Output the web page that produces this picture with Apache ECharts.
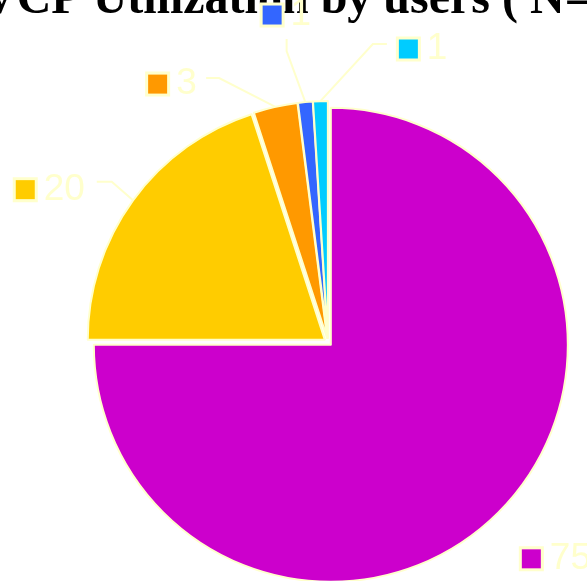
<!DOCTYPE html>
<html>
<head>
<meta charset="utf-8">
<script src="https://cdn.jsdelivr.net/npm/echarts@6/dist/echarts.min.js"></script>
<style>html,body{margin:0;padding:0;background:#fff;}#c{width:587px;height:581px;}</style>
</head>
<body>
<div id="c"></div>
<script>
const titleText = 'VCP Utilization by users ( N=100 )';
const categories = ['A', 'B', 'C', 'D', 'E'];
const values = [75, 20, 3, 1, 1];
const colors = ['#CC00CC', '#FFCC00', '#FF9900', '#3366FF', '#00CCFF'];

// label placement (layout only): marker left x, label middle y, leader-line bend and end points
const labelPlace = [
  { x: 516, y: 551, line: null },
  { x: 16,  y: 187, line: [[115, 184], [100, 184]] },
  { x: 146, y: 83,  line: [[220, 82], [207, 82]] },
  { x: 260, y: 14,  line: [[287, 55], [287, 43]] },
  { x: 396, y: 48,  line: [[373, 48], [387, 48]] }
];

const rich = {
  v: { fontSize: 37, color: '#FFFFCC', fontFamily: 'Liberation Sans', padding: [0, 0, 0, 9] }
};
colors.forEach((c, i) => {
  rich['m' + i] = { width: 19, height: 19, backgroundColor: c, borderColor: '#FFFFCC', borderWidth: 3 };
});

const chart = echarts.init(document.getElementById('c'), null, { renderer: 'canvas' });
chart.setOption({
  animation: false,
  backgroundColor: '#ffffff',
  title: {
    text: titleText,
    left: -23,
    top: -28,
    z: 0,
    textStyle: { fontFamily: 'Liberation Serif', fontWeight: 'bold', fontSize: 48, color: '#000' }
  },
  series: [{
    type: 'pie',
    z: 5,
    center: [328, 342],
    radius: 237,
    startAngle: 90,
    clockwise: true,
    selectedMode: 'multiple',
    selectedOffset: 4,
    avoidLabelOverlap: false,
    itemStyle: { borderColor: '#FFFFCC', borderWidth: 2 },
    emphasis: { disabled: true },
    label: {
      show: true,
      position: 'outside',
      overflow: 'none',
      formatter: p => '{m' + p.dataIndex + '|}{v|' + p.value + '}',
      rich: rich
    },
    labelLine: { show: true, length: 25, length2: 15, lineStyle: { color: '#FFFFCC', width: 2 } },
    labelLayout: function (params) {
      const lp = labelPlace[params.dataIndex];
      const r = params.labelRect;
      const res = {
        dx: lp.x - r.x,
        dy: lp.y + 5 - (r.y + r.height / 2),
        hideOverlap: false
      };
      if (lp.line && params.labelLinePoints) {
        res.labelLinePoints = [params.labelLinePoints[0], lp.line[0], lp.line[1]];
      }
      return res;
    },
    data: categories.map((n, i) => ({
      name: n, value: values[i], selected: true,
      itemStyle: { color: colors[i] },
      labelLine: { show: i !== 0 }
    }))
  }]
});
</script>
</body>
</html>
